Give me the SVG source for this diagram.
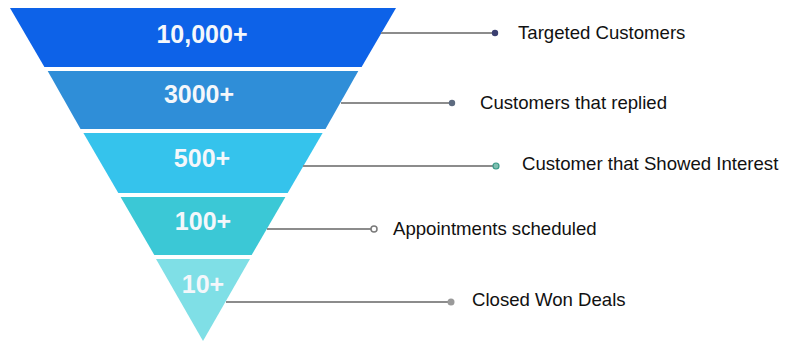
<svg xmlns="http://www.w3.org/2000/svg" width="789" height="341" viewBox="0 0 789 341">
<style>
.num{font-family:"Liberation Sans",Arial,sans-serif;font-weight:bold;font-size:25px;fill:#f4f7fb;text-anchor:middle}
.lbl{font-family:"Liberation Sans",Arial,sans-serif;font-size:18.6px;fill:#111}
.ln{stroke:#8c8c8c;stroke-width:2;fill:none}
</style>
<rect width="789" height="341" fill="#fff"/>
<g id="band1"><polygon points="10,8 396,8 361.6,67 44.4,67" fill="#0d62e8"/><text class="num" x="202" y="43">10,000+</text></g>
<g id="band2"><polygon points="47.7,71 358.3,71 325.5,129 80.5,129" fill="#2f8ed8"/><text class="num" x="199" y="103">3000+</text></g>
<g id="band3"><polygon points="83.4,133 322.6,133 287.7,193 118.3,193" fill="#35c3ec"/><text class="num" x="202" y="167">500+</text></g>
<g id="band4"><polygon points="120.6,197 285.4,197 251.7,255 154.3,255" fill="#3bc8d6"/><text class="num" x="203" y="230">100+</text></g>
<g id="band5"><polygon points="156,259 250,259 203,341" fill="#7fdfe6"/><text class="num" x="203" y="293">10+</text></g>
<g id="connectors">
<line class="ln" x1="381" y1="33" x2="494" y2="33"/>
<circle cx="495" cy="33" r="3.2" fill="#3b3f70"/>
<line class="ln" x1="341" y1="103" x2="451" y2="103"/>
<circle cx="452" cy="103" r="3.2" fill="#5d6b80"/>
<line class="ln" x1="303" y1="166" x2="494" y2="166"/>
<circle cx="496" cy="166" r="3" fill="#7fbfb0" stroke="#3a9a88" stroke-width="1.2"/>
<line class="ln" x1="267" y1="229" x2="371" y2="229"/>
<circle cx="374" cy="229" r="3" fill="#fff" stroke="#7a7a7a" stroke-width="1.5"/>
<line class="ln" x1="226" y1="302" x2="449" y2="302" stroke="#aaa"/>
<circle cx="451" cy="302" r="3.5" fill="#9a9a9a"/>
</g>
<g id="labels">
<text class="lbl" x="518" y="39">Targeted Customers</text>
<text class="lbl" x="480" y="109">Customers that replied</text>
<text class="lbl" x="522" y="170">Customer that Showed Interest</text>
<text class="lbl" x="393" y="235">Appointments scheduled</text>
<text class="lbl" x="472" y="306">Closed Won Deals</text>
</g>
</svg>
